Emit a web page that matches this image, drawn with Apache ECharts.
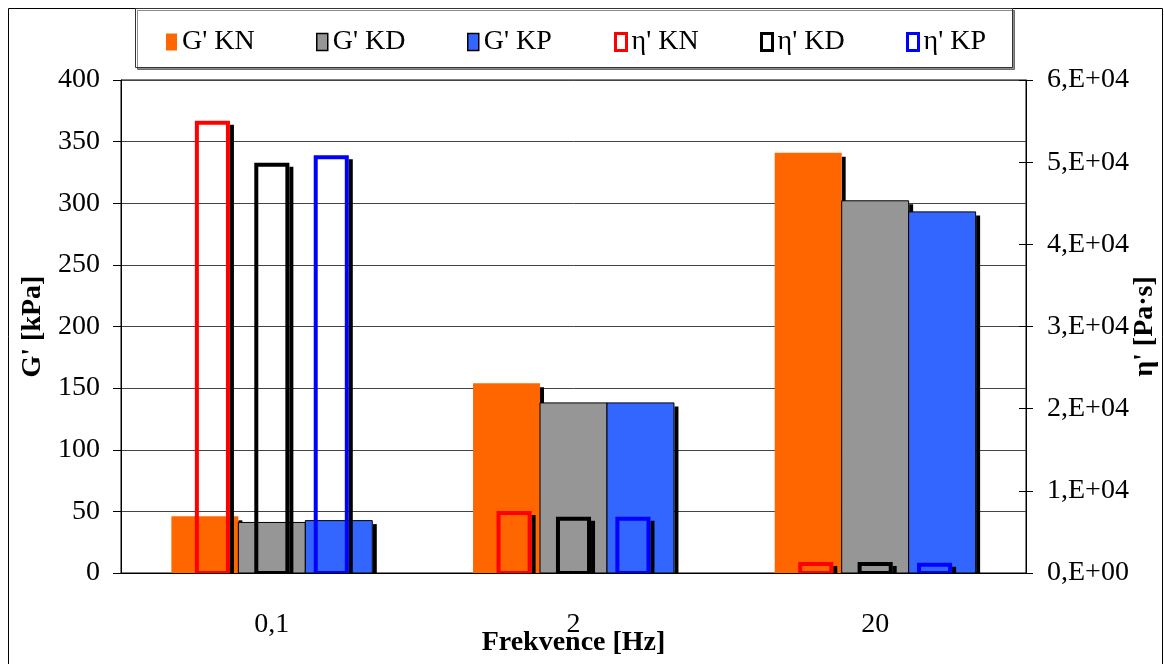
<!DOCTYPE html>
<html>
<head>
<meta charset="utf-8">
<script src="https://cdn.jsdelivr.net/npm/echarts@6/dist/echarts.min.js"></script>
<style>
  html, body { margin: 0; padding: 0; background: #fff; }
  #chart { width: 1164px; height: 664px; }
</style>
</head>
<body>
<div id="chart"></div>
<script>
// Frequencies (category axis)
const categories = ['0,1', '2', '20'];

// Storage modulus G' [kPa] (left axis)
const gKN = [46, 154, 341];
const gKD = [41, 138, 302];
const gKP = [42.5, 138, 293];

// Dynamic viscosity η' [Pa·s] (right axis)
const etaKN = [54800, 7300, 1100];
const etaKD = [49700, 6600, 1100];
const etaKP = [50600, 6600, 1000];

// Axis ticks
const gTicks = { min: 0, max: 400, step: 50 };
const etaTicks = { min: 0, max: 60000, step: 10000 };

const FONT = '"Liberation Serif", "Times New Roman", serif';
const FS = 28;
const SHADOW = 4;

// Draws a bar for one series slot inside a category band, with a
// solid drop shadow strip on its right-hand side.
function barRenderer(slot, widthFrac, stepFrac, look) {
  return function (params, api) {
    const ci = api.value(0);
    const base = api.coord([ci, 0]);
    const top = api.coord([ci, api.value(1)]);
    const band = api.size([1, 0])[0];
    const w = band * widthFrac;
    const x = base[0] + (slot - 1) * band * stepFrac - w / 2;
    const half = (look.lineWidth || 0) / 2;
    const sy = top[1] - half + SHADOW;
    return {
      type: 'group',
      children: [
        {
          type: 'rect',
          shape: { x: x + w + half, y: sy, width: SHADOW, height: Math.max(0, base[1] - sy) },
          style: { fill: '#000' }
        },
        {
          type: 'rect',
          shape: { x: x, y: top[1], width: w, height: base[1] - top[1] },
          style: {
            fill: look.fill,
            stroke: look.stroke || null,
            lineWidth: look.lineWidth || 0
          }
        }
      ]
    };
  };
}

function toData(values) {
  return values.map((v, i) => [i, v]);
}

const G_W = 0.222, G_STEP = 0.222;
const E_W = 0.103, E_STEP = 0.197;

const seriesDefs = [
  { name: "G' KN", values: gKN, axis: 0, slot: 0, w: G_W, step: G_STEP, look: { fill: '#FF6600' } },
  { name: "G' KD", values: gKD, axis: 0, slot: 1, w: G_W, step: G_STEP, look: { fill: '#969696', stroke: '#000', lineWidth: 1 } },
  { name: "G' KP", values: gKP, axis: 0, slot: 2, w: G_W, step: G_STEP, look: { fill: '#3366FF', stroke: '#000', lineWidth: 1 } },
  { name: "η' KN", values: etaKN, axis: 1, slot: 0, w: E_W, step: E_STEP, look: { fill: 'transparent', stroke: '#FF0000', lineWidth: 4 } },
  { name: "η' KD", values: etaKD, axis: 1, slot: 1, w: E_W, step: E_STEP, look: { fill: 'transparent', stroke: '#000000', lineWidth: 4 } },
  { name: "η' KP", values: etaKP, axis: 1, slot: 2, w: E_W, step: E_STEP, look: { fill: 'transparent', stroke: '#0000FF', lineWidth: 4 } }
];

// Legend entries, one legend block each so they sit evenly spaced
const legendItems = [
  { name: "G' KN", left: 166, itemStyle: { color: '#FF6600', borderWidth: 0 } },
  { name: "G' KD", left: 316, itemStyle: { color: '#969696', borderColor: '#000', borderWidth: 1.5 } },
  { name: "G' KP", left: 467, itemStyle: { color: '#3366FF', borderColor: '#000', borderWidth: 1.5 } },
  { name: "η' KN", left: 614, itemStyle: { color: '#fff', borderColor: '#FF0000', borderWidth: 3 } },
  { name: "η' KD", left: 760, itemStyle: { color: '#fff', borderColor: '#000000', borderWidth: 3 } },
  { name: "η' KP", left: 906, itemStyle: { color: '#fff', borderColor: '#0000FF', borderWidth: 3 } }
];

const chart = echarts.init(document.getElementById('chart'), null, { renderer: 'canvas' });

const option = {
  animation: false,
  backgroundColor: '#fff',
  graphic: [
    { type: 'rect', z: -10, shape: { x: 8.5, y: 8.5, width: 1154, height: 670 }, style: { fill: '#fff', stroke: '#000', lineWidth: 1 } },
    { type: 'rect', z: -5, shape: { x: 135.5, y: 8.5, width: 877, height: 59 },
      style: { fill: '#fff', stroke: '#333', lineWidth: 1, shadowColor: 'rgba(0,0,0,0.45)', shadowOffsetX: 2, shadowOffsetY: 2, shadowBlur: 0 } }
  ],
  legend: legendItems.map(it => ({
    left: it.left,
    top: 28,
    padding: 0,
    itemWidth: 11,
    itemHeight: 17,
    selectedMode: false,
    textStyle: { fontFamily: FONT, fontSize: FS, color: '#000' },
    data: [{ name: it.name, icon: 'rect', itemStyle: it.itemStyle }]
  })),
  grid: {
    left: 121, right: 138, top: 80, bottom: 91,
    outerBoundsMode: 'none',
    containLabel: false,
    show: true, borderColor: '#000', borderWidth: 1, backgroundColor: 'transparent'
  },
  xAxis: {
    type: 'category',
    data: categories,
    name: 'Frekvence [Hz]',
    nameLocation: 'middle',
    nameGap: 56,
    nameMoveOverlap: false,
    nameTextStyle: { fontFamily: FONT, fontSize: FS, fontWeight: 'bold', color: '#000' },
    axisLine: { lineStyle: { color: '#000', width: 1 } },
    axisTick: { length: 9, lineStyle: { color: '#000' } },
    axisLabel: { fontFamily: FONT, fontSize: FS, color: '#000', margin: 38 },
    splitLine: { show: false }
  },
  yAxis: [
    {
      type: 'value',
      min: gTicks.min, max: gTicks.max, interval: gTicks.step,
      name: "G' [kPa]",
      nameLocation: 'middle',
      nameRotate: 90,
      nameGap: 74,
      nameMoveOverlap: false,
      nameTextStyle: { fontFamily: FONT, fontSize: FS, fontWeight: 'bold', color: '#000' },
      axisLine: { show: true, lineStyle: { color: '#000', width: 1 } },
      axisTick: { show: true, length: 8, lineStyle: { color: '#000' } },
      axisLabel: { fontFamily: FONT, fontSize: FS, color: '#000', margin: 21 },
      splitLine: { show: true, lineStyle: { color: '#444', width: 1 } }
    },
    {
      type: 'value',
      position: 'right',
      min: etaTicks.min, max: etaTicks.max, interval: etaTicks.step,
      name: "η' [Pa·s]",
      nameLocation: 'middle',
      nameRotate: 90,
      nameGap: 105,
      nameMoveOverlap: false,
      nameTextStyle: { fontFamily: FONT, fontSize: FS, fontWeight: 'bold', color: '#000' },
      axisLine: { show: true, lineStyle: { color: '#000', width: 1 } },
      axisTick: { show: true, length: 7, lineStyle: { color: '#000' } },
      axisLabel: {
        fontFamily: FONT, fontSize: FS, color: '#000', margin: 21,
        formatter: v => v === 0 ? '0,E+00' : (v / 10000) + ',E+04'
      },
      splitLine: { show: false }
    },
    {
      // inner half of the crossing ticks on the right axis
      type: 'value',
      position: 'right',
      min: etaTicks.min, max: etaTicks.max, interval: etaTicks.step,
      axisLine: { show: false },
      axisTick: { show: true, inside: true, length: 7, lineStyle: { color: '#000' } },
      axisLabel: { show: false },
      splitLine: { show: false }
    }
  ],
  series: seriesDefs.map(d => ({
    type: 'custom',
    name: d.name,
    yAxisIndex: d.axis,
    clip: true,
    encode: { x: 0, y: 1 },
    itemStyle: { color: d.look.fill === 'transparent' ? d.look.stroke : d.look.fill },
    renderItem: barRenderer(d.slot, d.w, d.step, d.look),
    data: toData(d.values)
  }))
};

chart.setOption(option);
</script>
</body>
</html>
